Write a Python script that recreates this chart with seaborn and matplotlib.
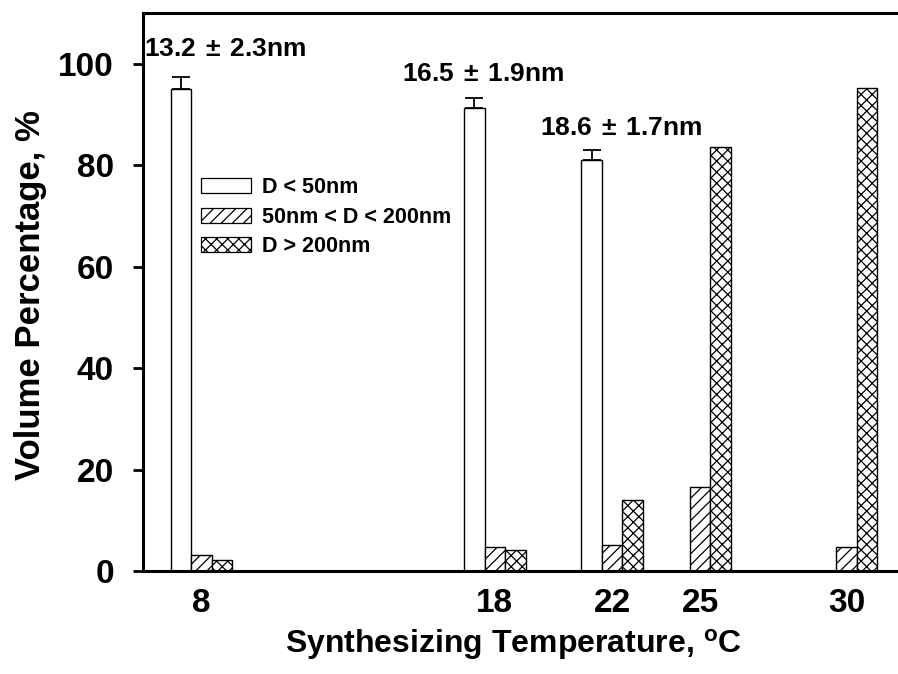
import numpy as np
import pandas as pd
import matplotlib
matplotlib.use("Agg")
import matplotlib.pyplot as plt
import seaborn as sns
from matplotlib.patches import Patch

# ---- data ----
temps = [8, 18, 22, 25, 30]
small = [95.0, 91.3, 81.0, np.nan, np.nan]       # D < 50nm
mid = [3.1, 4.7, 5.2, 16.5, 4.7]                 # 50nm < D < 200nm
large = [2.1, 4.2, 14.0, 83.5, 95.3]             # D > 200nm
small_err = [2.4, 2.0, 2.0, np.nan, np.nan]
series_names = ["D < 50nm", "50nm < D < 200nm", "D > 200nm"]
size_labels = ["13.2$\\,\\pm\\,$2.3nm", "16.5$\\,\\pm\\,$1.9nm", "18.6$\\,\\pm\\,$1.7nm"]
label_pos = [(8.8, 103.0), (17.6, 97.9), (22.3, 87.3)]
yticks = [0, 20, 40, 60, 80, 100]

rows = []
for name, vals in zip(series_names, [small, mid, large]):
    for t, v in zip(temps, vals):
        if not np.isnan(v):
            rows.append({"Temp": t, "Size": name, "Value": v})
df = pd.DataFrame(rows)

sns.set_style("white")
plt.rcParams["font.family"] = ["Liberation Sans", "DejaVu Sans"]
plt.rcParams["font.weight"] = "bold"
plt.rcParams["text.color"] = "black"
plt.rcParams["axes.labelcolor"] = "black"
plt.rcParams["xtick.color"] = "black"
plt.rcParams["ytick.color"] = "black"
plt.rcParams["mathtext.fontset"] = "custom"
plt.rcParams["mathtext.rm"] = "Liberation Sans"
plt.rcParams["mathtext.bf"] = "Liberation Sans:bold"
plt.rcParams["hatch.linewidth"] = 0.9

fig = plt.figure(figsize=(8.98, 6.74), dpi=100)
ax = fig.add_axes([143 / 898, 103 / 674, 755 / 898, 558 / 674])

sns.barplot(data=df, x="Temp", y="Value", hue="Size", hue_order=series_names,
            native_scale=True, width=0.7, palette=["white"] * 3, saturation=1,
            edgecolor="black", linewidth=1.0, errorbar=None, ax=ax, legend=False)

hatches = ["", "///", "xxx"]
for cont, h in zip(ax.containers, hatches):
    for p in cont.patches:
        p.set_hatch(h)
        p.set_facecolor("white")
        p.set_edgecolor("black")

# error bars on the D<50nm bars (upper only)
errs = [x for x in small_err if not np.isnan(x)]
for p, e in zip(ax.containers[0].patches, errs):
    xc = p.get_x() + p.get_width() / 2
    h = p.get_height()
    ax.errorbar([xc], [h], yerr=[[0], [e]], fmt="none", ecolor="black",
                elinewidth=1.3, capsize=6.3, capthick=1.3)

for txt, (xx, yy) in zip(size_labels, label_pos):
    ax.text(xx, yy, txt, ha="center", va="center", fontsize=19, fontweight="bold",
            color="black")

ax.set_xlim(6.0, 31.75)
ax.set_ylim(0, 110)
ax.set_xticks(temps)
ax.set_xticklabels([str(t) for t in temps])
ax.set_yticks(yticks)
ax.tick_params(axis="x", length=0, pad=12, labelsize=24)
ax.tick_params(axis="y", length=7, width=2, direction="out", pad=14, labelsize=24, left=True)
for lab in ax.get_xticklabels() + ax.get_yticklabels():
    lab.set_fontweight("bold")

for s in ["left", "bottom", "top"]:
    ax.spines[s].set_linewidth(2.2)
    ax.spines[s].set_color("black")
ax.spines["right"].set_visible(False)

ax.set_xlabel("Synthesizing Temperature, $\\mathbf{^o}$C", fontsize=23, fontweight="bold")
ax.set_ylabel("Volume Percentage, %", fontsize=25, fontweight="bold")
ax.xaxis.set_label_coords(0.49, -0.100)
ax.yaxis.set_label_coords(-0.127, 0.495)

handles = [Patch(facecolor="white", edgecolor="black", hatch=h, linewidth=0.9) for h in hatches]
ax.legend(handles, series_names, loc="upper left", bbox_to_anchor=(0.0768, 0.706),
          frameon=False, prop={"size": 15.5, "weight": "bold"}, handlelength=2.33,
          handleheight=0.68, labelspacing=0.4, handletextpad=0.5, borderpad=0,
          borderaxespad=0)

fig.savefig("out.png", dpi=100)
